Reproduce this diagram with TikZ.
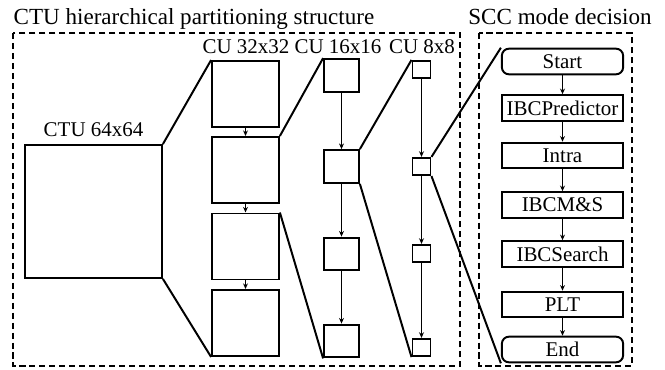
\documentclass[tikz,border=0pt]{standalone}
\usepackage{fontspec}
\setmainfont{Liberation Serif}
\usetikzlibrary{arrows.meta}

\begin{document}
\begin{tikzpicture}[x=0.025cm,y=-0.025cm,line width=1.4pt,
          font=\rmfamily\fontsize{14.9}{17}\selectfont,
          titlefont/.style={font=\rmfamily\fontsize{16.4}{19}\selectfont},
          frame/.style={dash pattern=on 4.3pt off 2.8pt},
          blk/.style={draw,inner sep=0pt},
          ctubox/.style={blk,minimum width=3.42cm,minimum height=3.32cm},
          cubig/.style={blk,minimum width=1.67cm,minimum height=1.65cm},
          cumid/.style={blk,minimum width=0.87cm,minimum height=0.82cm},
          cusmall/.style={blk,minimum width=0.45cm,minimum height=0.43cm},
          stepbox/.style={blk,minimum width=3.03cm,minimum height=0.64cm},
          termbox/.style={stepbox,rounded corners=5pt},
          arr/.style={-{Stealth[length=4pt,width=3.5pt]}}]
        \useasboundingbox (0,0) rectangle (665,369);
        % titles and frames
        \node[titlefont,anchor=base](ttlctu) at (194,24){CTU hierarchical partitioning structure};
        \node[titlefont,anchor=base](ttlscc) at (560,24){SCC mode decision};
        \draw[frame](13,33) rectangle (460,366);
        \draw[frame](479,33) rectangle (632,366);
        % partitioning
        \node[ctubox](ctu) at (93.5,211.5){};
        \node[anchor=base](lblctu) at (93.5,136){CTU 64x64};
        \node[anchor=base](lbl32) at (246,53){CU 32x32};
        \node[anchor=base](lbl16) at (338,53){CU 16x16};
        \node[anchor=base](lbl8)  at (422,53){CU 8x8};
        \node[cubig](a1) at (245.5,94){};
        \node[cubig](a2) at (245.5,170){};
        \node[cubig](a3) at (245.5,246.5){};
        \node[cubig](a4) at (245.5,323){};
        \node[cumid](b1) at (341.5,75.5){};
        \node[cumid](b2) at (341.5,166.5){};
        \node[cumid](b3) at (341.5,254){};
        \node[cumid](b4) at (341.5,341){};
        \node[cusmall](c1) at (421.5,69.5){};
        \node[cusmall](c2) at (421.5,166.5){};
        \node[cusmall](c3) at (421.5,253.5){};
        \node[cusmall](c4) at (421.5,347.5){};
        \draw[arr](a1)--(a2);
        \draw[arr](a2)--(a3);
        \draw[arr](a3)--(a4);
        \draw[arr](b1)--(b2);
        \draw[arr](b2)--(b3);
        \draw[arr](b3)--(b4);
        \draw[arr](c1)--(c2);
        \draw[arr](c2)--(c3);
        \draw[arr](c3)--(c4);
        \draw(ctu.north east)--(a1.north west);
        \draw(ctu.south east)--(a4.south west);
        \draw(a2.north east)--(b1.north west);
        \draw(a3.north east)--(b4.south west);
        \draw(b2.north east)--(c1.north west);
        \draw(b2.south east)--(c4.south west);
        % mode decision
        \node[termbox](start)  at (562.5,61.5){Start};
        \node[stepbox](pred)   at (562.5,108){IBCPredictor};
        \node[stepbox](intra)  at (562.5,155.5){Intra};
        \node[stepbox](ms)     at (562.5,205){IBCM\&S};
        \node[stepbox](search) at (562.5,254){IBCSearch};
        \node[stepbox](plt)    at (562.5,304.5){PLT};
        \node[termbox](end)    at (562.5,349.5){End};
        \draw[arr](start)--(pred);
        \draw[arr](pred)--(intra);
        \draw[arr](intra)--(ms);
        \draw[arr](ms)--(search);
        \draw[arr](search)--(plt);
        \draw[arr](plt)--(end);
        \draw(c2.north east)--(start.north west);
        \draw(c2.south east)--(end.south west);
      \end{tikzpicture}
\end{document}
